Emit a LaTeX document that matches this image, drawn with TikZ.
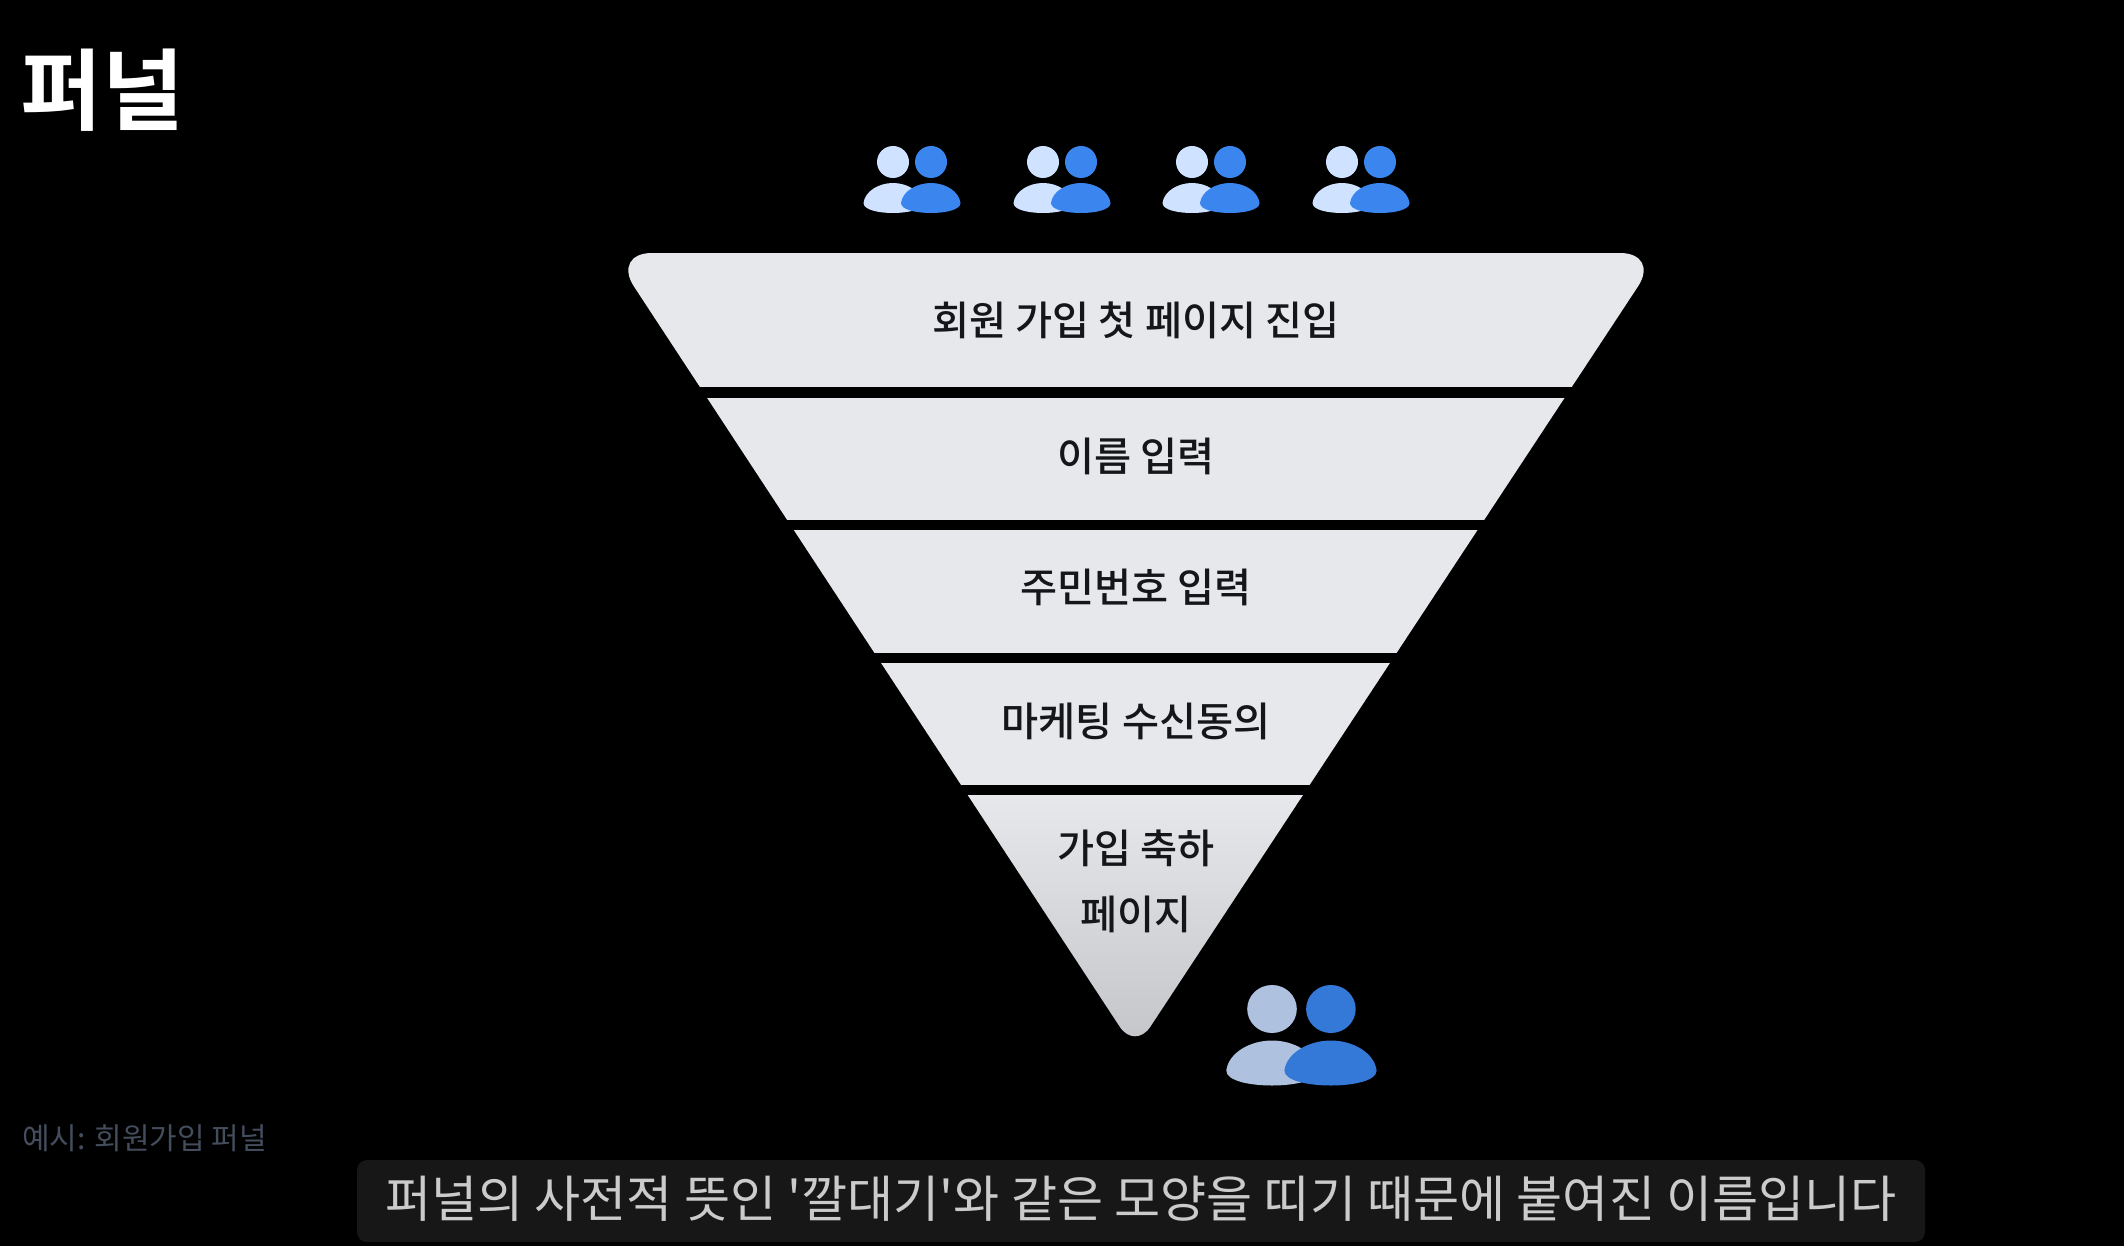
\documentclass[tikz,border=0pt]{standalone}
\usepackage{fontspec}
\newfontfamily\krr{Noto Sans CJK KR}
\newfontfamily\krm{Noto Sans CJK KR Medium}
\newfontfamily\krb{Noto Sans CJK KR Bold}
\definecolor{bandgray}{HTML}{E6E8EB}
\definecolor{bandlow}{HTML}{C2C4C7}
\definecolor{inktext}{HTML}{14161A}
\definecolor{smalllight}{HTML}{CFE2FF}
\definecolor{smallblue}{HTML}{3A86EE}
\definecolor{biglight}{HTML}{AEC2DF}
\definecolor{bigblue}{HTML}{3478D8}
\definecolor{capbox}{HTML}{171717}
\definecolor{captext}{HTML}{CBCBCB}
\definecolor{notetext}{HTML}{434D5C}
\tikzset{
  x=1pt,y=-1pt,
  steplabel/.style={inner sep=0pt,text=inktext,font=\krm\fontsize{40.3}{66}\selectfont,align=center},
  pics/duo/.style n args={2}{code={
    \fill[#1] (0,0) ellipse [x radius=16,y radius=16];
    \fill[#1] (-29.5,41) .. controls (-28,29) and (-14,21) .. (0,21)
       .. controls (14,21) and (28,29) .. (29.5,41)
       .. controls (29.5,48) and (14,51) .. (0,51)
       .. controls (-14,51) and (-29.5,48) .. (-29.5,41) -- cycle;
    \fill[#2] (38,0) ellipse [x radius=16,y radius=16];
    \fill[#2] (8,41) .. controls (9.5,29) and (24,21) .. (38,21)
       .. controls (52,21) and (66,29) .. (67.5,41)
       .. controls (67.5,48) and (52,51) .. (38,51)
       .. controls (24,51) and (8,48) .. (8,41) -- cycle;
  }}
}
\begin{document}
\begin{tikzpicture}
\useasboundingbox (0,0) rectangle (2124,1246);
\fill[black] (0,0) rectangle (2124,1246);
\begin{scope}
  \clip[rounded corners=40pt] (1135,253) -- (1660,253) [rounded corners=28pt] -- (1135,1050) [rounded corners=40pt] -- (612,253) [sharp corners] -- cycle;
  \fill[bandgray] (500,253) rectangle (1800,387);
  \fill[bandgray] (500,398) rectangle (1800,520);
  \fill[bandgray] (500,530) rectangle (1800,653);
  \fill[bandgray] (500,663) rectangle (1800,785);
  \fill[top color=bandgray,bottom color=bandlow] (500,795) rectangle (1800,1055);
\end{scope}
\node[steplabel] (s1) at (1136,320) {회원 가입 첫 페이지 진입};
\node[steplabel] (s2) at (1136,456) {이름 입력};
\node[steplabel] (s3) at (1136,587) {주민번호 입력};
\node[steplabel] (s4) at (1136,721) {마케팅 수신동의};
\node[steplabel] (s5) at (1136,881) {가입 축하\\페이지};
\pic (u1) at (893,162) {duo={smalllight}{smallblue}};
\pic (u2) at (1043,162) {duo={smalllight}{smallblue}};
\pic (u3) at (1192,162) {duo={smalllight}{smallblue}};
\pic (u4) at (1342,162) {duo={smalllight}{smallblue}};
\pic[xscale=1.55,yscale=1.5] (u5) at (1272,1009) {duo={biglight}{bigblue}};
\node[anchor=west,inner sep=0pt,text=white,font=\krb\fontsize{89}{89}\selectfont] (title) at (20,90) {퍼널};
\node[anchor=west,inner sep=0pt,text=notetext,font=\krr\fontsize{30}{30}\selectfont] (note) at (22,1138) {예시: 회원가입 퍼널};
\fill[capbox,rounded corners=10pt] (357,1160) rectangle (1925,1242);
\node[inner sep=0pt,text=captext,font=\krr\fontsize{50.1}{50}\selectfont] (cap) at (1141,1199) {퍼널의 사전적 뜻인 '깔대기'와 같은 모양을 띠기 때문에 붙여진 이름입니다};
\end{tikzpicture}
\end{document}
